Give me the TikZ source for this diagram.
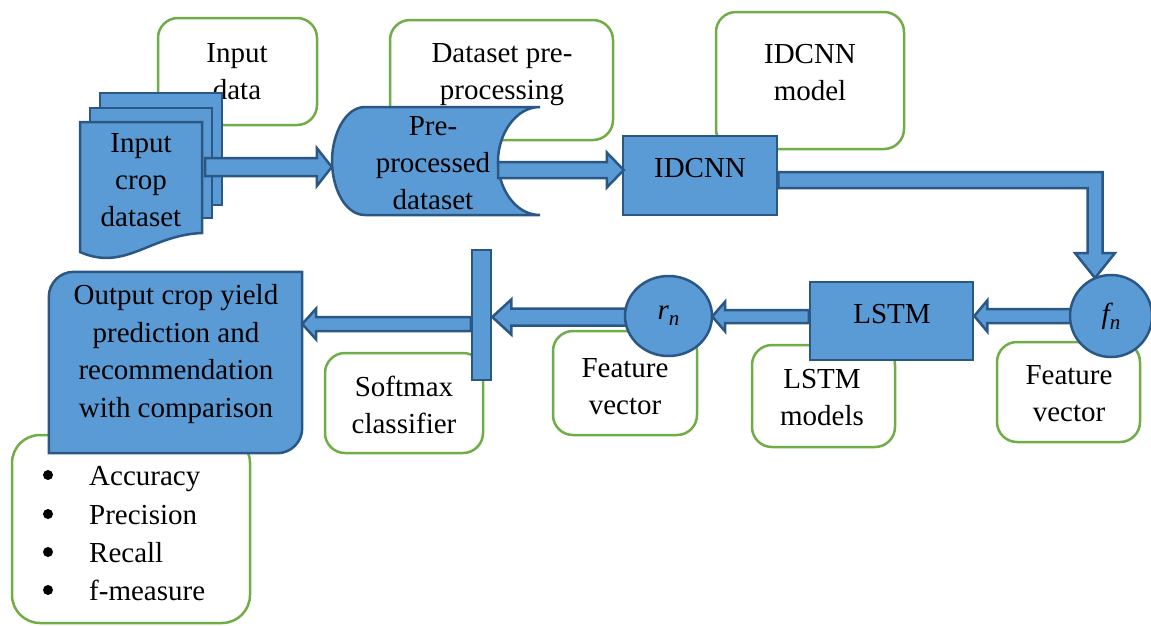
\documentclass[tikz,border=0pt]{standalone}
\usepackage{fontspec}
\setmainfont{Liberation Serif}
\usetikzlibrary{calc,shapes.geometric}
\definecolor{bfill}{HTML}{5B9BD5}
\definecolor{bdark}{HTML}{2A5783}
\definecolor{gline}{HTML}{70AD47}
\newcommand\bigfont{\fontsize{29}{37}\selectfont}
\newcommand\varsub[2]{{\itshape #1}\raisebox{-6pt}{\fontsize{21}{21}\selectfont\itshape #2}}
% horizontal block arrow: #1 start, #2 tip, #3 body half, #4 head half, #5 head length
\newcommand\blockH[5]{%
  \draw[bshape] let \p1=(#1), \p2=(#2), \n2={\x2-ifthenelse(\x2>\x1,#5,-#5)} in
  (\x1,{\y1+#3}) -- ({\n2*1pt},{\y1+#3}) -- ({\n2*1pt},{\y1+#4}) -- (\x2,\y1)
  -- ({\n2*1pt},{\y1-#4}) -- ({\n2*1pt},{\y1-#3}) -- (\x1,{\y1-#3}) -- cycle;}
\tikzset{
  gbox/.style={draw=gline, line width=2.5pt, rounded corners=20pt, fill=white, inner sep=0},
  bshape/.style={draw=bdark, fill=bfill, line width=2.5pt, line join=miter},
  txt/.style={font=\bigfont, align=center, inner sep=0},
  bulletdot/.style={fill=black},
}
\begin{document}
\begin{tikzpicture}[x=1pt,y=-1pt]
\useasboundingbox (0,0) rectangle (1151,625);

% ---- green annotation boxes ----
\node[gbox, minimum width=159pt, minimum height=107pt] (indata) at (237.5,71.5) {};
\node[txt] at (237,72) {Input\\data};
\node[gbox, minimum width=223pt, minimum height=120pt] (dsbox) at (501.5,80) {};
\node[txt] at (502,74.5) {Dataset pre-\\processing};
\node[gbox, minimum width=188pt, minimum height=137pt] (idmodel) at (810,80.5) {};
\node[txt] at (810,73) {IDCNN\\model};
\node[gbox, minimum width=158pt, minimum height=100pt] (softmax) at (404,403) {};
\node[txt] at (404,405) {Softmax\\classifier};
\node[gbox, minimum width=144pt, minimum height=104pt] (fv1) at (625,383) {};
\node[txt] at (625,386.5) {Feature\\vector};
\node[gbox, minimum width=143pt, minimum height=102pt] (lstmm) at (823.5,396) {};
\node[txt] at (822,398) {LSTM\\models};
\node[gbox, minimum width=143pt, minimum height=100pt] (fv2) at (1068.5,392) {};
\node[txt] at (1069,393.5) {Feature\\vector};
\node[gbox, rounded corners=28pt, minimum width=238pt, minimum height=188pt] (metrics) at (131,529) {};
\node[font=\fontsize{29}{38.3}\selectfont, align=left, inner sep=0, anchor=west] (mlist) at (89,534)
  {Accuracy\\Precision\\Recall\\f-measure};
\foreach \yy in {475,514,552,590} \fill[bulletdot] (48,\yy) circle (5);

% ---- multi-document input ----
\draw[bshape] (100,93) rectangle (222,205);
\draw[bshape] (90,108) rectangle (212,218);
\draw[bshape] (80,122) -- (202,122) -- (202,233)
  .. controls (150,235) and (125,272) .. (80,252) -- cycle;
\node[txt, minimum width=122pt, minimum height=111pt] (docs) at (141,180.5) {Input\\crop\\dataset};

% ---- pre-processed dataset (stored data) ----
\node[minimum width=208pt, minimum height=108pt, inner sep=0] (pre) at (436,161) {};
\draw[bshape] (365,107) -- (540,107)
  .. controls (515,107) and (498,135) .. (498,161)
  .. controls (498,188) and (515,215) .. (540,215)
  -- (365,215)
  .. controls (345,215) and (332,188) .. (332,161)
  .. controls (332,135) and (345,107) .. (365,107) -- cycle;
\node[txt] at (433,163.5) {Pre-\\processed\\dataset};

% ---- IDCNN ----
\node[bshape, minimum width=154pt, minimum height=79pt, inner sep=0] (idcnn) at (700,175.5) {};
\node[txt] at (700,168.5) {IDCNN};

% ---- output box ----
\node[minimum width=253pt, minimum height=181pt, inner sep=0] (out) at (175.5,362.5) {};
\draw[bshape] (out.south west) -- ($(out.north west)+(0,25)$)
  .. controls ($(out.north west)+(0,11.2)$) and ($(out.north west)+(11.2,0)$) .. ($(out.north west)+(25,0)$)
  -- (out.north east) -- ($(out.south east)+(0,-25)$)
  .. controls ($(out.south east)+(0,-11.2)$) and ($(out.south east)+(-11.2,0)$) .. ($(out.south east)+(-25,0)$)
  -- cycle;
\node[font=\fontsize{29}{37.7}\selectfont, align=center, inner sep=0] at (176,354)
  {Output crop yield\\prediction and\\recommendation\\with comparison};

% ---- LSTM, bar ----
\node[bshape, minimum width=163pt, minimum height=78pt, inner sep=0] (lstm) at (891.5,321) {};
\node[txt] at (892,314) {LSTM};
\node[bshape, minimum width=19pt, minimum height=130pt, inner sep=0] (bar) at (481.5,315) {};

% ---- circle nodes (placed for anchors, drawn after arrows) ----
\path (1111,316) node[circle, minimum size=82pt, inner sep=0] (fn) {}
      (668.5,316) node[ellipse, minimum width=87pt, minimum height=80pt, inner sep=0] (rn) {};

% ---- block arrows ----
\blockH{$(docs.east)+(3,-13.5)$}{pre.west}{9}{19}{15}
\blockH{$(pre.east)+(-42,9)$}{$(idcnn.west)+(2,0)$}{8}{17.5}{17}
\coordinate (fnT) at ($(fn.center)+(-16,-38)$);
\draw[bshape] let \p1=($(idcnn.east)+(0,4.5)$), \p2=(fnT) in
  (\x1,{\y1+8}) -- ({\x2+7.5},{\y1+8}) -- ({\x2+7.5},{\y2+25}) -- ({\x2+20},{\y2+25}) -- (\p2)
  -- ({\x2-20},{\y2+25}) -- ({\x2-7.5},{\y2+25}) -- ({\x2-7.5},{\y1-8}) -- (\x1,{\y1-8}) -- cycle;
\blockH{$(fn.west)+(6,0)$}{lstm.east}{7}{15.5}{13}
\blockH{$(lstm.west)+(0,-4.5)$}{rn.east}{6.5}{15}{13}
\blockH{$(bar.west)+(0,9)$}{out.east}{7}{15.5}{14}
\blockH{$(rn.west)+(8,1)$}{bar.east}{8.5}{17.5}{19}

% ---- circles on top ----
\node[bshape, circle, minimum size=82pt, inner sep=0, font=\bigfont] at (fn) {\varsub{f}{n}};
\node[bshape, ellipse, minimum width=87pt, minimum height=80pt, inner sep=0, font=\bigfont] at (rn) {\varsub{r}{n}};
\end{tikzpicture}
\end{document}
